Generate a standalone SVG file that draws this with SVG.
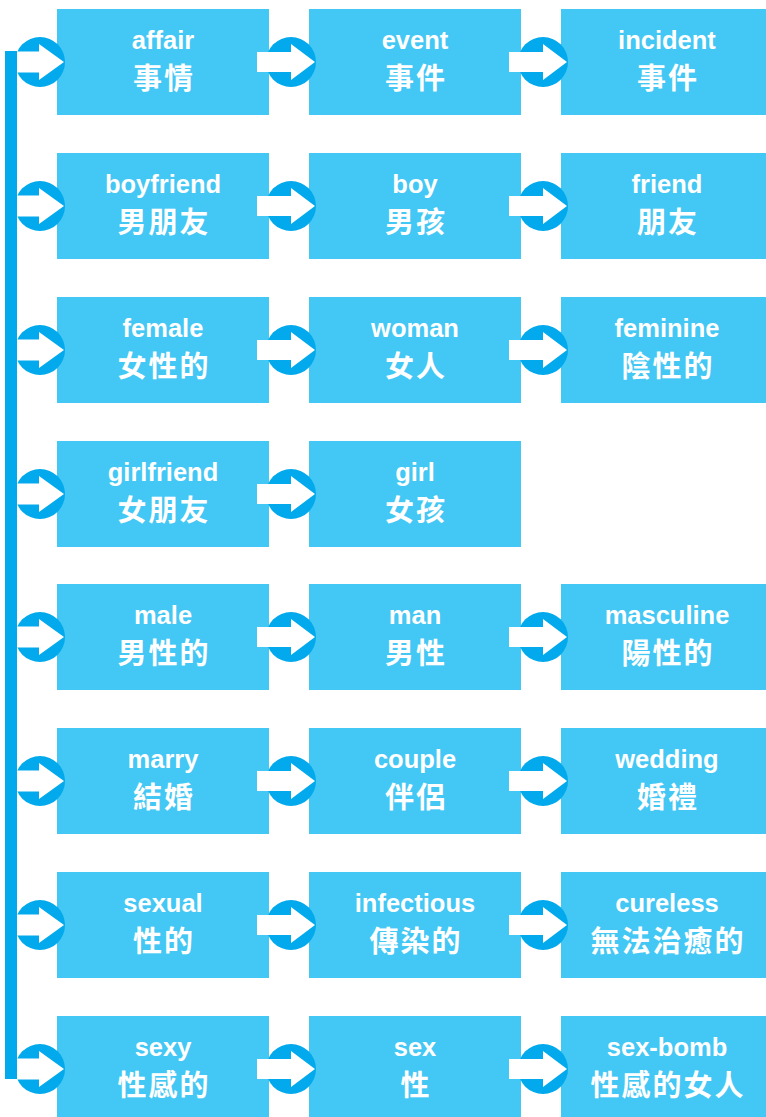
<svg xmlns="http://www.w3.org/2000/svg" width="766" height="1117" viewBox="0 0 766 1117">
<style>
.box{fill:#43C7F4}
.en{font-family:"Liberation Sans","Noto Sans",sans-serif;font-weight:bold;font-size:25.5px;fill:#fff;text-anchor:middle}
.zh{font-family:"Noto Sans CJK TC","Noto Sans CJK SC",sans-serif;font-weight:bold;font-size:29px;letter-spacing:2px;fill:#fff;text-anchor:middle}
.ring{fill:#02A9EC}
.arw{fill:#fff}
</style>
<defs>
<g id="larr"><circle class="ring" cx="40" cy="0" r="25"/><polygon class="arw" points="17,-10.5 39,-10.5 39,-18 64,0 39,18 39,10.5 17,10.5"/></g>
<g id="marr"><circle class="ring" cx="291" cy="0" r="25"/><polygon class="arw" points="257,-10 291,-10 291,-18 315,0 291,18 291,10 257,10"/></g>
</defs>
<g id="nodes">
<g id="n-affair" transform="translate(57,9)"><rect class="box" width="212" height="106"/><text class="en" x="106" y="40">affair</text><text class="zh" x="107" y="80">事情</text></g>
<g id="n-event" transform="translate(309,9)"><rect class="box" width="212" height="106"/><text class="en" x="106" y="40">event</text><text class="zh" x="107" y="80">事件</text></g>
<g id="n-incident" transform="translate(561,9)"><rect class="box" width="212" height="106"/><text class="en" x="106" y="40">incident</text><text class="zh" x="107" y="80">事件</text></g>

<g id="n-boyfriend" transform="translate(57,153)"><rect class="box" width="212" height="106"/><text class="en" x="106" y="40">boyfriend</text><text class="zh" x="107" y="80">男朋友</text></g>
<g id="n-boy" transform="translate(309,153)"><rect class="box" width="212" height="106"/><text class="en" x="106" y="40">boy</text><text class="zh" x="107" y="80">男孩</text></g>
<g id="n-friend" transform="translate(561,153)"><rect class="box" width="212" height="106"/><text class="en" x="106" y="40">friend</text><text class="zh" x="107" y="80">朋友</text></g>

<g id="n-female" transform="translate(57,297)"><rect class="box" width="212" height="106"/><text class="en" x="106" y="40">female</text><text class="zh" x="107" y="80">女性的</text></g>
<g id="n-woman" transform="translate(309,297)"><rect class="box" width="212" height="106"/><text class="en" x="106" y="40">woman</text><text class="zh" x="107" y="80">女人</text></g>
<g id="n-feminine" transform="translate(561,297)"><rect class="box" width="212" height="106"/><text class="en" x="106" y="40">feminine</text><text class="zh" x="107" y="80">陰性的</text></g>

<g id="n-girlfriend" transform="translate(57,441)"><rect class="box" width="212" height="106"/><text class="en" x="106" y="40">girlfriend</text><text class="zh" x="107" y="80">女朋友</text></g>
<g id="n-girl" transform="translate(309,441)"><rect class="box" width="212" height="106"/><text class="en" x="106" y="40">girl</text><text class="zh" x="107" y="80">女孩</text></g>

<g id="n-male" transform="translate(57,584)"><rect class="box" width="212" height="106"/><text class="en" x="106" y="40">male</text><text class="zh" x="107" y="80">男性的</text></g>
<g id="n-man" transform="translate(309,584)"><rect class="box" width="212" height="106"/><text class="en" x="106" y="40">man</text><text class="zh" x="107" y="80">男性</text></g>
<g id="n-masculine" transform="translate(561,584)"><rect class="box" width="212" height="106"/><text class="en" x="106" y="40">masculine</text><text class="zh" x="107" y="80">陽性的</text></g>

<g id="n-marry" transform="translate(57,728)"><rect class="box" width="212" height="106"/><text class="en" x="106" y="40">marry</text><text class="zh" x="107" y="80">結婚</text></g>
<g id="n-couple" transform="translate(309,728)"><rect class="box" width="212" height="106"/><text class="en" x="106" y="40">couple</text><text class="zh" x="107" y="80">伴侶</text></g>
<g id="n-wedding" transform="translate(561,728)"><rect class="box" width="212" height="106"/><text class="en" x="106" y="40">wedding</text><text class="zh" x="107" y="80">婚禮</text></g>

<g id="n-sexual" transform="translate(57,872)"><rect class="box" width="212" height="106"/><text class="en" x="106" y="40">sexual</text><text class="zh" x="107" y="80">性的</text></g>
<g id="n-infectious" transform="translate(309,872)"><rect class="box" width="212" height="106"/><text class="en" x="106" y="40">infectious</text><text class="zh" x="107" y="80">傳染的</text></g>
<g id="n-cureless" transform="translate(561,872)"><rect class="box" width="212" height="106"/><text class="en" x="106" y="40">cureless</text><text class="zh" x="107" y="80">無法治癒的</text></g>

<g id="n-sexy" transform="translate(57,1016)"><rect class="box" width="212" height="106"/><text class="en" x="106" y="40">sexy</text><text class="zh" x="107" y="80">性感的</text></g>
<g id="n-sex" transform="translate(309,1016)"><rect class="box" width="212" height="106"/><text class="en" x="106" y="40">sex</text><text class="zh" x="107" y="80">性</text></g>
<g id="n-sexbomb" transform="translate(561,1016)"><rect class="box" width="212" height="106"/><text class="en" x="106" y="40">sex-bomb</text><text class="zh" x="107" y="80">性感的女人</text></g>
</g>
<g id="connectors">
<rect class="ring" x="5" y="51" width="12" height="1028"/>
<use href="#larr" y="62"/><use href="#marr" y="62"/><use href="#marr" x="252" y="62"/>
<use href="#larr" y="206"/><use href="#marr" y="206"/><use href="#marr" x="252" y="206"/>
<use href="#larr" y="350"/><use href="#marr" y="350"/><use href="#marr" x="252" y="350"/>
<use href="#larr" y="494"/><use href="#marr" y="494"/>
<use href="#larr" y="637"/><use href="#marr" y="637"/><use href="#marr" x="252" y="637"/>
<use href="#larr" y="781"/><use href="#marr" y="781"/><use href="#marr" x="252" y="781"/>
<use href="#larr" y="925"/><use href="#marr" y="925"/><use href="#marr" x="252" y="925"/>
<use href="#larr" y="1069"/><use href="#marr" y="1069"/><use href="#marr" x="252" y="1069"/>
</g>
</svg>
